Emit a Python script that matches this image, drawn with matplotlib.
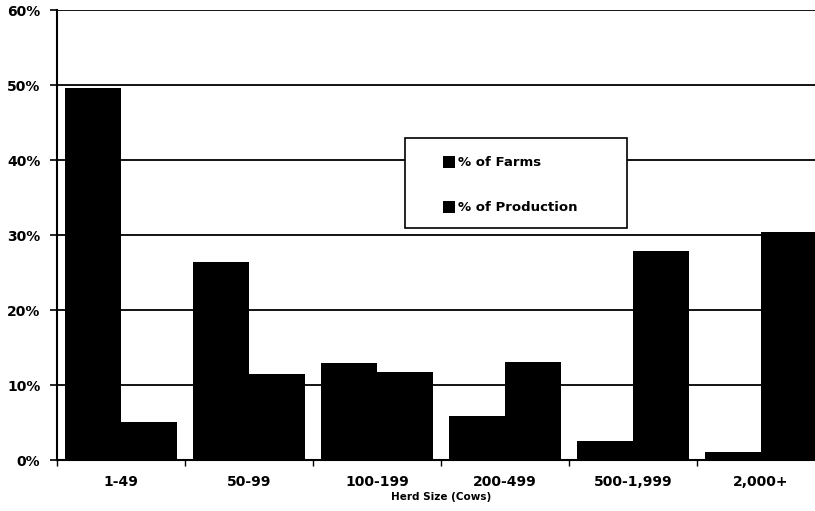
import matplotlib.pyplot as plt
import numpy as np
from matplotlib.patches import Rectangle
from matplotlib.ticker import FuncFormatter, MultipleLocator

# Share of dairy farms and of milk production by herd size
herd_sizes = ['1-49', '50-99', '100-199', '200-499', '500-1,999', '2,000+']
pct_farms = [49.6, 26.4, 12.9, 5.9, 2.5, 1.1]
pct_production = [5.1, 11.5, 11.7, 13.1, 27.9, 30.4]
series_names = ['% of Farms', '% of Production']

plt.rcParams['font.family'] = 'DejaVu Sans'
plt.rcParams['font.weight'] = 'bold'

fig = plt.figure(figsize=(8.15, 5.11), dpi=100)
# the plot runs slightly past the right edge of the page
ax = fig.add_axes([57 / 815, 51 / 511, 768 / 815, 450 / 511])

x = np.arange(len(herd_sizes))
width = 0.4375
ax.bar(x - width, pct_farms, width, align='edge', color='black', zorder=3)
ax.bar(x, pct_production, width, align='edge', color='black', zorder=3)

ax.set_xlim(-0.5, len(herd_sizes) - 0.5)
ax.set_ylim(0, 60)

# horizontal gridlines
ax.yaxis.set_major_locator(MultipleLocator(10))
ax.yaxis.set_major_formatter(FuncFormatter(lambda v, pos: f"{v:.0f}%"))
ax.grid(axis='y', color='black', linewidth=1.3, zorder=0)
ax.set_axisbelow(True)

ax.set_xticks(x)
ax.set_xticklabels(herd_sizes)
ax.set_xticks(np.arange(len(herd_sizes) + 1) - 0.5, minor=True)
ax.tick_params(axis='x', which='major', length=0, pad=11, labelsize=10)
ax.tick_params(axis='x', which='minor', length=4, width=1, direction='out')
ax.tick_params(axis='y', length=5, width=1.2, pad=7, labelsize=10)

for side in ['top', 'right']:
    ax.spines[side].set_visible(False)
ax.spines['left'].set_linewidth(1.5)
ax.spines['bottom'].set_linewidth(1.5)

ax.set_xlabel('Herd Size (Cows)', fontsize=7.5, fontweight='bold', labelpad=2)

# legend box
fig.patches.append(Rectangle((405 / 815, 1 - 228 / 511), 222 / 815, 90 / 511,
                             transform=fig.transFigure, facecolor='white',
                             edgecolor='black', linewidth=1.2, zorder=5))
for name, ypix in zip(series_names, [162, 207]):
    fig.patches.append(Rectangle((443 / 815, 1 - (ypix + 6) / 511), 12 / 815, 12 / 511,
                                 transform=fig.transFigure, facecolor='black',
                                 edgecolor='none', zorder=6))
    fig.text(458 / 815, 1 - ypix / 511, name, fontsize=9.5, fontweight='bold',
             va='center', ha='left', zorder=7)

plt.savefig('out.png', dpi=100)
plt.close()
